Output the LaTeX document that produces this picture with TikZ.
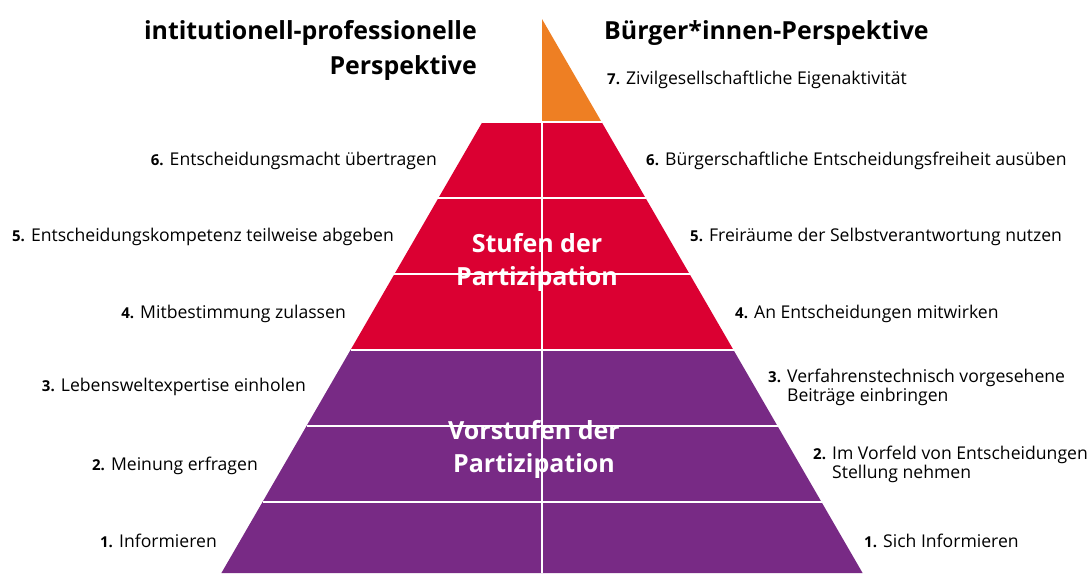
\documentclass[tikz,border=0pt]{standalone}
\usepackage{fontspec}
\setmainfont{Open Sans}
\definecolor{pyrorange}{HTML}{EE7F23}
\definecolor{pyrred}{HTML}{DB0032}
\definecolor{pyrpurple}{HTML}{782A85}
\newcommand{\nm}[1]{{\fontsize{15}{17}\selectfont\bfseries #1}}
\begin{document}
\begin{tikzpicture}[x=1pt,y=-1pt,
  lbl/.style={inner sep=0pt,font=\fontsize{17.6}{19.5}\selectfont},
  lbll/.style={lbl,anchor=base east},
  lblr/.style={lbl,anchor=base west},
  ttl/.style={inner sep=0pt,font=\fontsize{24.9}{35}\selectfont\bfseries,align=right},
  ctr/.style={inner sep=0pt,text=white,font=\fontsize{25}{33}\selectfont\bfseries,align=center,anchor=base},
  sep/.style={draw=white,line width=1.2pt}]
\useasboundingbox (0,0) rectangle (1091,573);
% pyramid
\fill[pyrorange] (542,19) -- (601.6,122) -- (542,122) -- cycle;
\fill[pyrred] (482.4,122) -- (601.6,122) -- (733.5,350) -- (350.5,350) -- cycle;
\fill[pyrpurple] (350.5,350) -- (733.5,350) -- (862.6,573) -- (221.4,573) -- cycle;
\draw[sep] (482.4,122) -- (601.6,122);
\draw[sep] (438.4,198) -- (645.6,198);
\draw[sep] (394.4,274) -- (689.6,274);
\draw[sep] (350.5,350) -- (733.5,350);
\draw[sep] (306.5,426) -- (777.5,426);
\draw[sep] (262.5,502) -- (821.5,502);
\draw[sep] (542,122) -- (542,573);
% titles (base = last line)
\node[ttl,anchor=base east] (tl) at (477,74) {intitutionell-professionelle\\Perspektive};
\node[ttl,anchor=base west] (tr) at (604,39) {Bürger*innen-Perspektive};
% centre labels (base = last line)
\node[ctr] (stufen) at (537,285) {Stufen der\\Partizipation};
\node[ctr] (vorstufen) at (534,472) {Vorstufen der\\Partizipation};
% left labels
\node[lbll] (l6) at (437,165) {\nm{6.} Entscheidungsmacht übertragen};
\node[lbll] (l5) at (394,241) {\nm{5.} Entscheidungskompetenz teilweise abgeben};
\node[lbll] (l4) at (346,318) {\nm{4.} Mitbestimmung zulassen};
\node[lbll] (l3) at (306,391) {\nm{3.} Lebensweltexpertise einholen};
\node[lbll] (l2) at (258,470) {\nm{2.} Meinung erfragen};
\node[lbll] (l1) at (217,547) {\nm{1.} Informieren};
% right labels
\node[lblr] (r7) at (607,84) {\nm{7.} Zivilgesellschaftliche Eigenaktivität};
\node[lblr] (r6) at (646,165) {\nm{6.} Bürgerschaftliche Entscheidungsfreiheit ausüben};
\node[lblr] (r5) at (690,241) {\nm{5.} Freiräume der Selbstverantwortung nutzen};
\node[lblr] (r4) at (735,318) {\nm{4.} An Entscheidungen mitwirken};
\node[lblr] (r3) at (768,382) {\nm{3.} \begin{tabular}[t]{@{}l@{}}Verfahrenstechnisch vorgesehene\\Beiträge einbringen\end{tabular}};
\node[lblr] (r2) at (813,459) {\nm{2.} \begin{tabular}[t]{@{}l@{}}Im Vorfeld von Entscheidungen\\Stellung nehmen\end{tabular}};
\node[lblr] (r1) at (864,547) {\nm{1.} Sich Informieren};
\end{tikzpicture}
\end{document}
